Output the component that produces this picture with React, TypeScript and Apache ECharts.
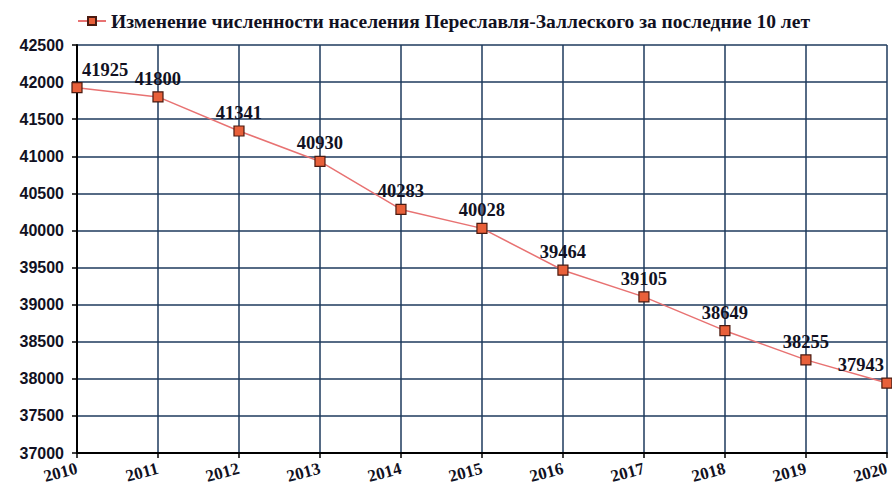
import React, { useEffect, useRef } from "react";
import * as echarts from "echarts";

const years = ["2010", "2011", "2012", "2013", "2014", "2015", "2016", "2017", "2018", "2019", "2020"];
const population = [41925, 41800, 41341, 40930, 40283, 40028, 39464, 39105, 38649, 38255, 37943];
const seriesName = "Изменение численности населения Переславля-Заллеского за последние 10 лет";

export default function App() {
  const ref = useRef<HTMLDivElement>(null);
  useEffect(() => {
    if (!ref.current) return;
    const chart = echarts.init(ref.current, null, { renderer: "svg" });
    const last = population.length - 1;
    chart.setOption({
      animation: false,
      backgroundColor: "#ffffff",
      legend: {
        top: 6,
        left: 72,
        itemWidth: 28,
        itemHeight: 10,
        itemGap: 6,
        textStyle: { fontFamily: "Liberation Serif", fontWeight: "bold", fontSize: 19.5, color: "#111122" },
        data: [seriesName],
      },
      grid: { left: 77, right: -3, top: 45, bottom: 33, containLabel: false },
      xAxis: {
        type: "category",
        data: years,
        boundaryGap: false,
        axisLine: { lineStyle: { color: "#000000", width: 2 } },
        axisTick: { show: true, length: 5, lineStyle: { color: "#000000", width: 1.5 } },
        axisLabel: {
          rotate: 15,
          margin: 15,
          fontFamily: "Liberation Serif",
          fontWeight: "bold",
          fontSize: 17,
          color: "#111122",
        },
        splitLine: { show: true, lineStyle: { color: "#1e3a5c", width: 1.5 } },
      },
      yAxis: {
        type: "value",
        min: 37000,
        max: 42500,
        interval: 500,
        axisLine: { show: true, lineStyle: { color: "#000000", width: 2 } },
        axisTick: { show: true, length: 5, lineStyle: { color: "#000000", width: 1.5 } },
        axisLabel: {
          margin: 13,
          formatter: (v: number) => String(v),
          fontFamily: "Liberation Sans",
          fontWeight: "bold",
          fontSize: 16,
          color: "#111122",
        },
        splitLine: { show: true, lineStyle: { color: "#1e3a5c", width: 1.5 } },
      },
      series: [
        {
          name: seriesName,
          type: "line",
          data: population.map((v, i) => ({
            value: v,
            label: i === 0 ? { offset: [28, 0] } : i === last ? { offset: [-26, 0] } : undefined,
          })),
          symbol: "rect",
          symbolSize: 10,
          clip: false,
          lineStyle: { color: "#e87272", width: 1.5 },
          itemStyle: { color: "#e8603a", borderColor: "#4a1a10", borderWidth: 1.2 },
          label: {
            show: true,
            position: "top",
            distance: 3,
            fontFamily: "Liberation Serif",
            fontWeight: "bold",
            fontSize: 18.5,
            color: "#111122",
          },
        },
      ],
    });
    return () => chart.dispose();
  }, []);
  return <div ref={ref} style={{ width: 892, height: 486, position: "fixed", left: 0, top: 0 }} />;
}
